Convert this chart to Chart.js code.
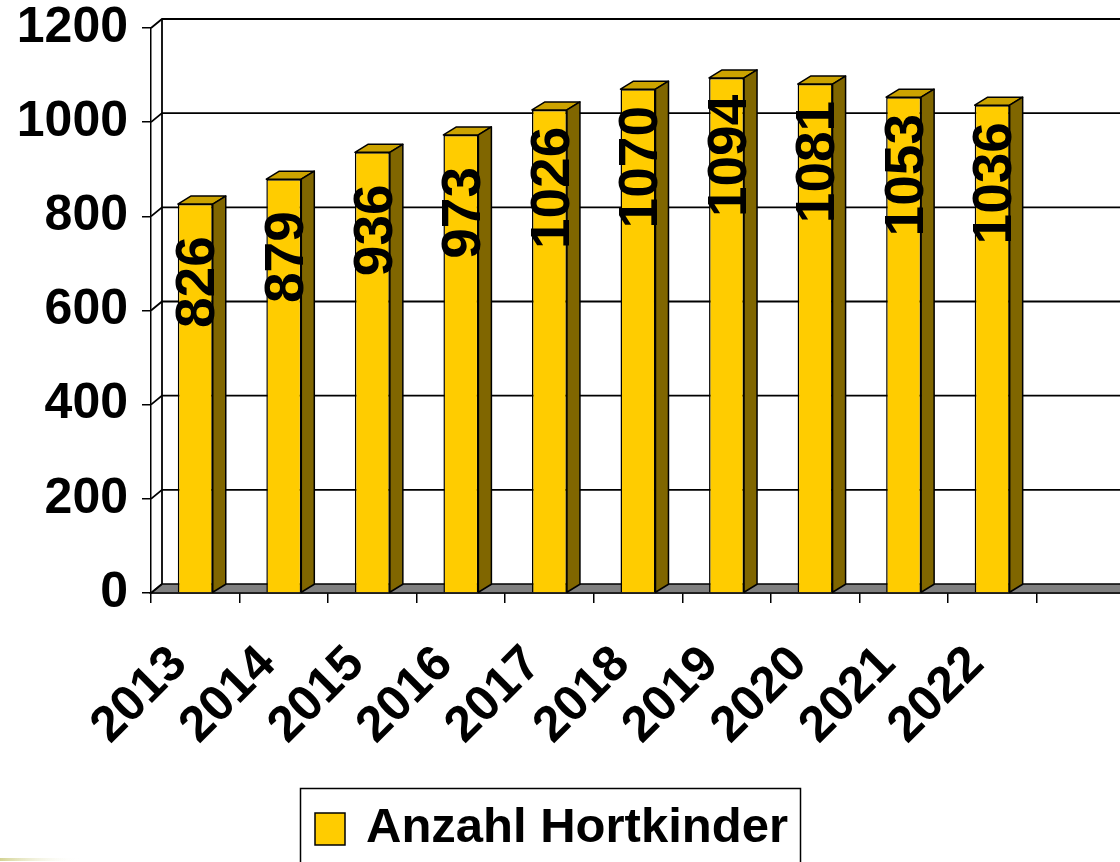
<!DOCTYPE html>
<html><head><meta charset="utf-8">
<script src="https://cdn.jsdelivr.net/npm/chart.js@4/dist/chart.umd.min.js"></script>
<style>
html,body{margin:0;padding:0;background:#fff;overflow:hidden;width:1120px;height:862px}
#wrap{position:relative;width:1125px;height:862px}
</style></head><body>
<div id="wrap"><canvas id="c" width="1125" height="862"></canvas></div>
<script>
const categories = ['2013','2014','2015','2016','2017','2018','2019','2020','2021','2022',''];
const seriesName = 'Anzahl Hortkinder';
const values = [826, 879, 936, 973, 1026, 1070, 1094, 1081, 1053, 1036, null];
const yTicks = [0, 200, 400, 600, 800, 1000, 1200];

const FONT = '"Liberation Sans", Arial, sans-serif';
const FRONT = '#FFCC00', TOPC = '#CCA300', SIDE = '#806600', FLOOR = '#808080';
const WALL = {dx: 11, dy: 9};
const DEPTH = {dx: 13, dy: 8};

const threeD = {
  id: 'threeD',
  beforeDatasetsDraw(chart) {
    const {ctx, chartArea: a, scales: {y}} = chart;
    const W = chart.width;
    const y0 = y.getPixelForValue(0);
    const yMax = y.getPixelForValue(yTicks[yTicks.length - 1]);
    ctx.save();
    ctx.strokeStyle = '#000';
    ctx.lineWidth = 1.5;
    ctx.fillStyle = FLOOR;
    ctx.beginPath();
    ctx.moveTo(a.left, y0);
    ctx.lineTo(a.left + WALL.dx, y0 - WALL.dy);
    ctx.lineTo(W + 5, y0 - WALL.dy);
    ctx.lineTo(W + 5, y0);
    ctx.closePath();
    ctx.fill();
    ctx.stroke();
    ctx.lineWidth = 1.8;
    yTicks.forEach(v => {
      const py = y.getPixelForValue(v);
      ctx.beginPath();
      ctx.moveTo(a.left, py);
      ctx.lineTo(a.left + WALL.dx, py - WALL.dy);
      if (v !== 0) ctx.lineTo(W + 5, py - WALL.dy);
      ctx.stroke();
    });
    ctx.beginPath();
    ctx.moveTo(a.left + WALL.dx, yMax - WALL.dy);
    ctx.lineTo(a.left + WALL.dx, y0 - WALL.dy);
    ctx.stroke();
    ctx.restore();
  },
  afterDatasetsDraw(chart) {
    const {ctx} = chart;
    const meta = chart.getDatasetMeta(0);
    ctx.save();
    ctx.strokeStyle = '#000';
    ctx.lineWidth = 1.5;
    ctx.lineJoin = 'round';
    meta.data.forEach((bar, i) => {
      if (values[i] == null) return;
      const p = bar.getProps(['x', 'y', 'base', 'width'], true);
      const x0 = p.x - p.width / 2, x1 = p.x + p.width / 2;
      const t = p.y, b = p.base;
      ctx.fillStyle = TOPC;
      ctx.beginPath();
      ctx.moveTo(x0, t);
      ctx.lineTo(x0 + DEPTH.dx, t - DEPTH.dy);
      ctx.lineTo(x1 + DEPTH.dx, t - DEPTH.dy);
      ctx.lineTo(x1, t);
      ctx.closePath();
      ctx.fill(); ctx.stroke();
      ctx.fillStyle = SIDE;
      ctx.beginPath();
      ctx.moveTo(x1, t);
      ctx.lineTo(x1 + DEPTH.dx, t - DEPTH.dy);
      ctx.lineTo(x1 + DEPTH.dx, b - DEPTH.dy);
      ctx.lineTo(x1, b);
      ctx.closePath();
      ctx.fill(); ctx.stroke();
    });
    ctx.fillStyle = '#000';
    ctx.font = 'bold 55px ' + FONT;
    ctx.textAlign = 'center';
    ctx.textBaseline = 'middle';
    meta.data.forEach((bar, i) => {
      if (values[i] == null) return;
      const p = bar.getProps(['x', 'y'], true);
      ctx.save();
      ctx.translate(p.x + 4, p.y + 78);
      ctx.rotate(-Math.PI / 2);
      ctx.fillText(String(values[i]), 0, 0);
      ctx.restore();
    });
    ctx.restore();
  },
  afterDraw(chart) {
    const {ctx} = chart;
    ctx.save();
    ctx.strokeStyle = '#000';
    ctx.lineWidth = 1.5;
    ctx.strokeRect(300.5, 788.5, 500, 120);
    ctx.fillStyle = FRONT;
    ctx.fillRect(315, 813, 30, 32);
    ctx.strokeRect(315, 813, 30, 32);
    ctx.fillStyle = '#000';
    ctx.font = 'bold 49px ' + FONT;
    ctx.textAlign = 'left';
    ctx.textBaseline = 'alphabetic';
    ctx.fillText(seriesName, 366, 842);
    const g = ctx.createLinearGradient(0, 0, 80, 0);
    g.addColorStop(0, 'rgba(200,200,120,0.8)');
    g.addColorStop(1, 'rgba(255,255,255,0)');
    ctx.fillStyle = g;
    ctx.fillRect(0, 858, 80, 3);
    ctx.restore();
  }
};

new Chart(document.getElementById('c'), {
  type: 'bar',
  data: {
    labels: categories,
    datasets: [{
      label: seriesName,
      data: values,
      backgroundColor: FRONT,
      borderColor: '#000',
      borderWidth: 1.5,
      barPercentage: 0.395,
      categoryPercentage: 1
    }]
  },
  options: {
    responsive: false,
    animation: false,
    devicePixelRatio: 1,
    layout: {padding: {top: 28, left: 0, right: 0, bottom: 0}},
    plugins: {legend: {display: false}, tooltip: {enabled: false}},
    scales: {
      x: {
        offset: true,
        grid: {display: true, drawOnChartArea: false, drawTicks: true, tickLength: 10, color: '#000', lineWidth: 1.5, offset: true},
        border: {display: true, color: '#000', width: 1.5},
        ticks: {
          autoSkip: false, maxRotation: 45, minRotation: 45, padding: 32, labelOffset: -16,
          color: '#000', font: {family: FONT, size: 50, weight: 'bold'}
        },
        afterFit(scale) { scale.height = 269; scale.paddingLeft = 0; scale.paddingRight = 0; }
      },
      y: {
        min: 0, max: 1200,
        grid: {display: true, drawOnChartArea: false, drawTicks: true, tickLength: 9, color: '#000', lineWidth: 1.5},
        border: {display: true, color: '#000', width: 1.5},
        ticks: {
          padding: 14, color: '#000', font: {family: FONT, size: 50, weight: 'bold'},
          callback: v => String(v)
        },
        afterBuildTicks(scale) { scale.ticks = yTicks.map(v => ({value: v})); },
        afterFit(scale) { scale.width = 151; scale.paddingTop = 0; scale.paddingBottom = 0; }
      }
    }
  },
  plugins: [threeD]
});
</script>
</body></html>
